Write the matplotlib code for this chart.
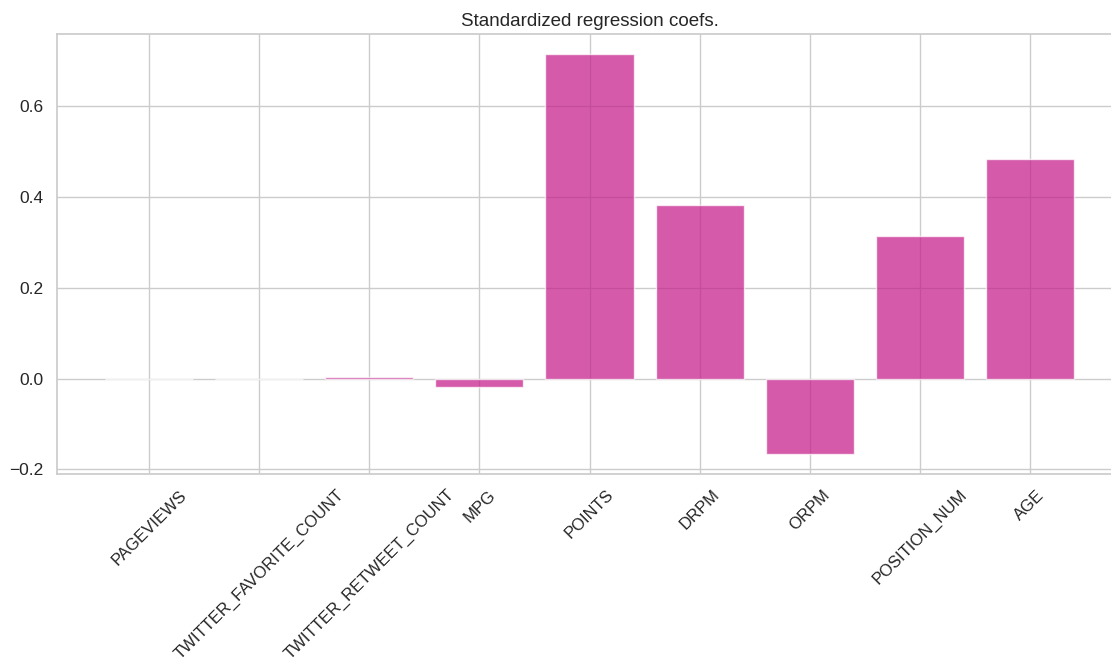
import matplotlib
matplotlib.use("Agg")
import matplotlib.pyplot as plt
import seaborn as sns

features = ["PAGEVIEWS", "TWITTER_FAVORITE_COUNT", "TWITTER_RETWEET_COUNT", "MPG",
            "POINTS", "DRPM", "ORPM", "POSITION_NUM", "AGE"]
coefs = [-0.001, -0.001, 0.003, -0.018, 0.715, 0.383, -0.166, 0.314, 0.483]

sns.set_theme(style="whitegrid")
plt.rcParams['font.family'] = ['Liberation Sans', 'DejaVu Sans']

fig = plt.figure(figsize=(11.11, 6.71), dpi=100)
ax = fig.add_axes([57/1111, 1-474/671, (1122-57)/1111, (474-34)/671])
ax.bar(range(len(features)), coefs, color="#c51b8a", alpha=0.72, edgecolor="white")
ax.set_xticks(range(len(features)))
ax.set_xticklabels(features, rotation=45, fontsize=12, color="#262626")
ax.tick_params(axis='y', labelsize=12.5, labelcolor="#262626")
ax.set_title("Standardized regression coefs.", fontsize=13.5, color="#262626")
fig.savefig("out.png", dpi=100)
